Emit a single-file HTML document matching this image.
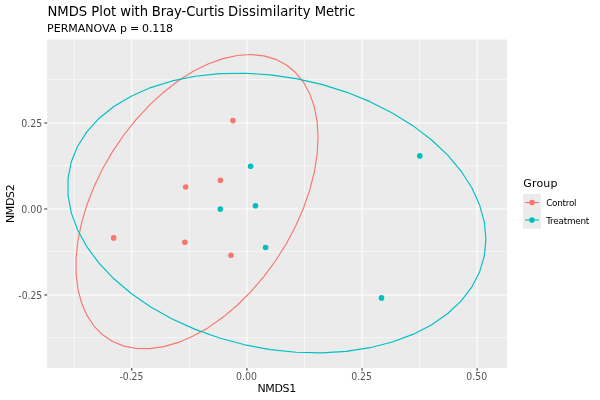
<!DOCTYPE html>
<html><head><meta charset="utf-8"><title>NMDS Plot</title>
<style>html,body{margin:0;padding:0;background:#fff}svg{display:block}text{font-family:"DejaVu Sans","Liberation Sans",sans-serif}</style></head><body>
<svg width="600" height="400" viewBox="0 0 600 400">
<rect width="600" height="400" fill="#fff"/>
<rect x="47.15" y="39.45" width="459.85" height="328.55" fill="#EBEBEB"/>
<clipPath id="c"><rect x="47.15" y="39.45" width="459.85" height="328.55"/></clipPath>
<g clip-path="url(#c)">
<g stroke="#fff" stroke-width="0.58" fill="none">
<line x1="74.25" x2="74.25" y1="39.45" y2="368.0"/>
<line x1="189.35" x2="189.35" y1="39.45" y2="368.0"/>
<line x1="304.45" x2="304.45" y1="39.45" y2="368.0"/>
<line x1="419.55" x2="419.55" y1="39.45" y2="368.0"/>
<line y1="337.65" y2="337.65" x1="47.15" x2="507.0"/>
<line y1="251.65" y2="251.65" x1="47.15" x2="507.0"/>
<line y1="165.65" y2="165.65" x1="47.15" x2="507.0"/>
<line y1="79.65" y2="79.65" x1="47.15" x2="507.0"/>
</g>
<g stroke="#fff" stroke-width="1.07" fill="none">
<line x1="131.80" x2="131.80" y1="39.45" y2="368.0"/>
<line x1="246.90" x2="246.90" y1="39.45" y2="368.0"/>
<line x1="362.00" x2="362.00" y1="39.45" y2="368.0"/>
<line x1="477.10" x2="477.10" y1="39.45" y2="368.0"/>
<line y1="295.00" y2="295.00" x1="47.15" x2="507.0"/>
<line y1="209.00" y2="209.00" x1="47.15" x2="507.0"/>
<line y1="123.00" y2="123.00" x1="47.15" x2="507.0"/>
</g>
<circle cx="232.90" cy="120.60" r="2.8" fill="#F8766D"/>
<circle cx="220.40" cy="180.20" r="2.8" fill="#F8766D"/>
<circle cx="185.70" cy="187.00" r="2.8" fill="#F8766D"/>
<circle cx="113.70" cy="237.90" r="2.8" fill="#F8766D"/>
<circle cx="184.80" cy="242.20" r="2.8" fill="#F8766D"/>
<circle cx="231.00" cy="255.30" r="2.8" fill="#F8766D"/>
<circle cx="250.60" cy="166.30" r="2.8" fill="#00BFC4"/>
<circle cx="220.30" cy="209.10" r="2.8" fill="#00BFC4"/>
<circle cx="255.50" cy="205.80" r="2.8" fill="#00BFC4"/>
<circle cx="265.60" cy="247.50" r="2.8" fill="#00BFC4"/>
<circle cx="419.80" cy="155.90" r="2.8" fill="#00BFC4"/>
<circle cx="381.50" cy="297.90" r="2.8" fill="#00BFC4"/>
<polyline fill="none" stroke="#F8766D" stroke-width="1.15" stroke-linejoin="round" points="318.06,137.47 317.14,121.68 314.40,107.11 309.88,93.97 303.65,82.47 295.80,72.77 286.46,65.03 275.75,59.36 263.85,55.85 250.94,54.55 237.21,55.48 222.87,58.62 208.14,63.94 193.24,71.34 178.39,80.72 163.83,91.94 149.77,104.82 136.42,119.16 123.99,134.76 112.67,151.38 102.62,168.75 94.01,186.63 86.96,204.73 81.57,222.79 77.93,240.53 76.10,257.69 76.10,273.99 77.93,289.19 81.57,303.08 86.96,315.42 94.01,326.04 102.62,334.78 112.67,341.50 123.99,346.10 136.42,348.51 149.77,348.69 163.83,346.65 178.39,342.41 193.24,336.04 208.14,327.63 222.87,317.32 237.21,305.25 250.94,291.61 263.85,276.61 275.75,260.47 286.46,243.44 295.80,225.78 303.65,207.76 309.88,189.64 314.40,171.71 317.14,154.23 318.06,137.47"/>
<polyline fill="none" stroke="#00BFC4" stroke-width="1.15" stroke-linejoin="round" points="485.92,239.15 484.33,222.07 479.60,204.84 471.79,187.74 461.03,171.03 447.48,154.95 431.33,139.75 412.85,125.66 392.30,112.89 370.00,101.64 346.29,92.09 321.52,84.36 296.08,78.58 270.34,74.85 244.70,73.20 219.55,73.68 195.27,76.27 172.22,80.93 150.75,87.59 131.20,96.16 113.85,106.50 98.98,118.45 86.79,131.83 77.49,146.45 71.21,162.07 68.05,178.47 68.05,195.39 71.21,212.58 77.49,229.77 86.79,246.71 98.98,263.14 113.85,278.81 131.20,293.49 150.75,306.94 172.22,318.97 195.27,329.39 219.55,338.05 244.70,344.81 270.34,349.58 296.08,352.27 321.52,352.86 346.29,351.32 370.00,347.69 392.30,342.02 412.85,334.39 431.33,324.92 447.48,313.75 461.03,301.06 471.79,287.03 479.60,271.89 484.33,255.84 485.92,239.15"/>
</g>
<g stroke="#333" stroke-width="1.07">
<line x1="131.80" x2="131.80" y1="368.0" y2="370.75"/>
<line x1="246.90" x2="246.90" y1="368.0" y2="370.75"/>
<line x1="362.00" x2="362.00" y1="368.0" y2="370.75"/>
<line x1="477.10" x2="477.10" y1="368.0" y2="370.75"/>
<line y1="295.00" y2="295.00" x1="44.4" x2="47.15"/>
<line y1="209.00" y2="209.00" x1="44.4" x2="47.15"/>
<line y1="123.00" y2="123.00" x1="44.4" x2="47.15"/>
</g>
<g font-size="10.1" fill="#545454" lengthAdjust="spacingAndGlyphs">
<text x="131.40" y="380.00" text-anchor="middle" lengthAdjust="spacingAndGlyphs" textLength="23.9">-0.25</text>
<text x="246.50" y="380.00" text-anchor="middle" lengthAdjust="spacingAndGlyphs" textLength="20.8">0.00</text>
<text x="361.60" y="380.00" text-anchor="middle" lengthAdjust="spacingAndGlyphs" textLength="20.8">0.25</text>
<text x="476.70" y="380.00" text-anchor="middle" lengthAdjust="spacingAndGlyphs" textLength="20.8">0.50</text>
<text x="42.20" y="298.75" text-anchor="end" lengthAdjust="spacingAndGlyphs" textLength="23.9">-0.25</text>
<text x="42.20" y="212.75" text-anchor="end" lengthAdjust="spacingAndGlyphs" textLength="21.0">0.00</text>
<text x="42.20" y="126.75" text-anchor="end" lengthAdjust="spacingAndGlyphs" textLength="21.0">0.25</text>
</g>
<g font-size="11" fill="#000">
<text x="276.85" y="392.2" text-anchor="middle" textLength="38.8">NMDS1</text>
<text transform="translate(13.6,203.72) rotate(-90)" text-anchor="middle" textLength="38.8">NMDS2</text>
<text y="31.5" xml:space="preserve"><tspan x="47.1">PERMANOVA </tspan><tspan x="120">p </tspan><tspan x="130">= </tspan><tspan x="142.1" textLength="31">0.118</tspan></text>
<text x="523.35" y="187.3" textLength="34.1">Group</text>
</g>
<text y="15.8" font-size="13.2" fill="#000" xml:space="preserve"><tspan x="47.5" textLength="39.6">NMDS</tspan><tspan> </tspan><tspan x="91.3">Plot </tspan><tspan x="120.17">with </tspan><tspan x="151.8" textLength="72.6">Bray-Curtis</tspan><tspan> </tspan><tspan x="228.1" textLength="82.5">Dissimilarity</tspan><tspan> </tspan><tspan x="314.76" textLength="40.5">Metric</tspan></text>
<rect x="523.05" y="194" width="17.85" height="34.7" fill="#EBEBEB"/>
<line x1="525.05" x2="538.9" y1="202.55" y2="202.55" stroke="#F8766D" stroke-width="1.07"/>
<circle cx="531.97" cy="202.55" r="2.8" fill="#F8766D"/>
<text x="546.2" y="206.0" font-size="8.8" fill="#000" textLength="30.3">Control</text>
<line x1="525.05" x2="538.9" y1="219.95" y2="219.95" stroke="#00BFC4" stroke-width="1.07"/>
<circle cx="531.97" cy="219.95" r="2.8" fill="#00BFC4"/>
<text x="546.2" y="223.8" font-size="8.8" fill="#000" textLength="43.1">Treatment</text>
</svg></body></html>
